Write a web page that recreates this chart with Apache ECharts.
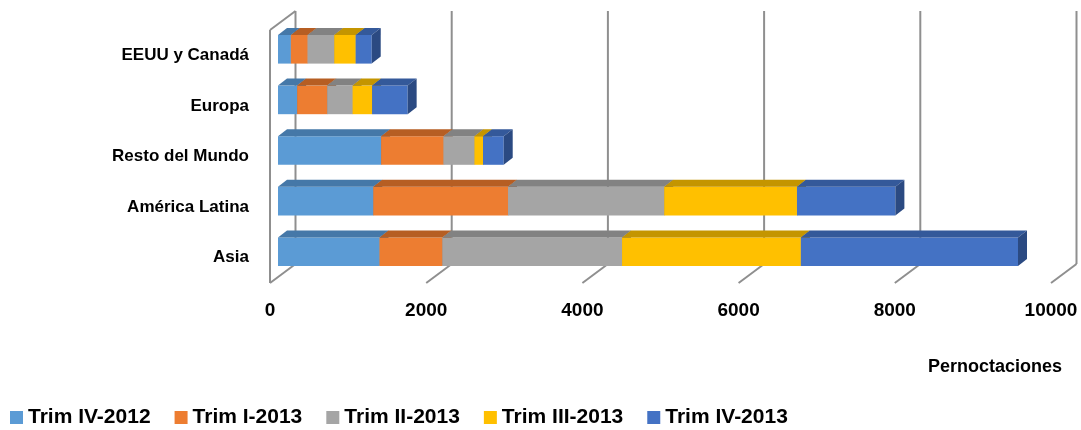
<!DOCTYPE html>
<html>
<head>
<meta charset="utf-8">
<script src="https://cdn.jsdelivr.net/npm/echarts@6/dist/echarts.min.js"></script>
<style>
  html, body { margin: 0; padding: 0; background: #fff; }
  #chart { width: 1081px; height: 430px; }
</style>
</head>
<body>
<div id="chart"></div>
<script>
// categorias (de abajo hacia arriba)
const regiones = ["Asia", "América Latina", "Resto del Mundo", "Europa", "EEUU y Canadá"];

const trimIV2012 = [1300, 1220, 1320, 245, 165];
const trimI2013 = [805, 1725, 800, 385, 215];
const trimII2013 = [2300, 2000, 395, 325, 340];
const trimIII2013 = [2290, 1700, 110, 250, 275];
const trimIV2013 = [2780, 1260, 265, 455, 205];

const xTicks = [0, 2000, 4000, 6000, 8000, 10000];

const seriesNames = ["Trim IV-2012", "Trim I-2013", "Trim II-2013", "Trim III-2013", "Trim IV-2013"];
const seriesValues = [trimIV2012, trimI2013, trimII2013, trimIII2013, trimIV2013];

const colors = ["#5B9BD5", "#ED7D31", "#A5A5A5", "#FFC000", "#4472C4"];
const topColors = ["#4578A8", "#B65E23", "#828282", "#C49500", "#34599A"];
const sideColors = ["#3B6790", "#9E521E", "#707070", "#A88000", "#2B4A82"];

// profundidad de la "caja" 3D
const WALL_DX = 25.5, WALL_DY = -19;
const BAR_OX = 8, BAR_OY = -6;
const BAR_DX = 9, BAR_DY = -7;

var myChart = echarts.init(document.getElementById("chart"));

// bases acumuladas para el apilado
const bases = regiones.map(() => 0);
const barSeries = seriesNames.map((name, s) => {
  const data = regiones.map((r, i) => {
    const item = [i, bases[i], seriesValues[s][i]];
    bases[i] += seriesValues[s][i];
    return item;
  });
  return {
    name: name,
    type: "custom",
    z: 3,
    itemStyle: { color: colors[s] },
    encode: { x: 2, y: 0 },
    data: data,
    renderItem: function (params, api) {
      const cat = api.value(0);
      const base = api.value(1);
      const end = base + api.value(2);
      const p0 = api.coord([base, cat]);
      const p1 = api.coord([end, cat]);
      const band = api.size([0, 1])[1];
      const h = band * 0.565;
      const x0 = p0[0] + BAR_OX, x1 = p1[0] + BAR_OX;
      const yc = p0[1] + BAR_OY;
      const yt = yc - h / 2, yb = yc + h / 2;
      return {
        type: "group",
        children: [
          { type: "rect", shape: { x: x0, y: yt, width: x1 - x0, height: h }, style: { fill: colors[s] } },
          { type: "polygon", shape: { points: [[x0, yt], [x1, yt], [x1 + BAR_DX, yt + BAR_DY], [x0 + BAR_DX, yt + BAR_DY]] }, style: { fill: topColors[s] } },
          { type: "polygon", shape: { points: [[x1, yt], [x1 + BAR_DX, yt + BAR_DY], [x1 + BAR_DX, yb + BAR_DY], [x1, yb]] }, style: { fill: sideColors[s] } }
        ]
      };
    }
  };
});

const wallSeries = {
  type: "custom",
  z: 1,
  silent: true,
  encode: { x: 0, y: 1 },
  data: xTicks.map((t) => [t, 0]),
  renderItem: function (params, api) {
    const cs = params.coordSys;
    const x = api.coord([api.value(0), 0])[0];
    const top = cs.y, bottom = cs.y + cs.height;
    const line = { stroke: "#8F8F8F", lineWidth: 2 };
    const children = [
      { type: "line", shape: { x1: x + WALL_DX, y1: top + WALL_DY, x2: x + WALL_DX, y2: bottom + WALL_DY }, style: line },
      { type: "line", shape: { x1: x, y1: bottom, x2: x + WALL_DX, y2: bottom + WALL_DY }, style: line }
    ];
    if (params.dataIndex === 0) {
      children.push({ type: "line", shape: { x1: x, y1: top, x2: x, y2: bottom }, style: line });
      children.push({ type: "line", shape: { x1: x, y1: top, x2: x + WALL_DX, y2: top + WALL_DY }, style: line });
    }
    return { type: "group", children: children };
  }
};

myChart.setOption({
  animation: false,
  textStyle: { fontFamily: "Liberation Sans", fontWeight: "bold", color: "#000" },
  grid: { left: 270, width: 781, top: 30, height: 253 },
  title: {
    text: "Pernoctaciones",
    right: 14,
    top: 353,
    textStyle: { fontSize: 18, fontWeight: "bold", color: "#000", fontFamily: "Liberation Sans" }
  },
  legend: {
    data: seriesNames,
    left: 5,
    top: 402,
    icon: "rect",
    itemWidth: 13,
    itemHeight: 13,
    itemGap: 24,
    textStyle: { fontSize: 21, fontWeight: "bold", color: "#000", fontFamily: "Liberation Sans" }
  },
  xAxis: {
    type: "value",
    min: 0,
    max: 10000,
    interval: 2000,
    axisLine: { show: false },
    axisTick: { show: false },
    splitLine: { show: false },
    axisLabel: { fontSize: 19, fontWeight: "bold", color: "#000", margin: 18, formatter: (v) => String(v) }
  },
  yAxis: {
    type: "category",
    data: regiones,
    axisLine: { show: false },
    axisTick: { show: false },
    axisLabel: { fontSize: 17, fontWeight: "bold", color: "#000", margin: 21, padding: [0, 0, 12, 0] }
  },
  series: [wallSeries].concat(barSeries)
});
</script>
</body>
</html>
